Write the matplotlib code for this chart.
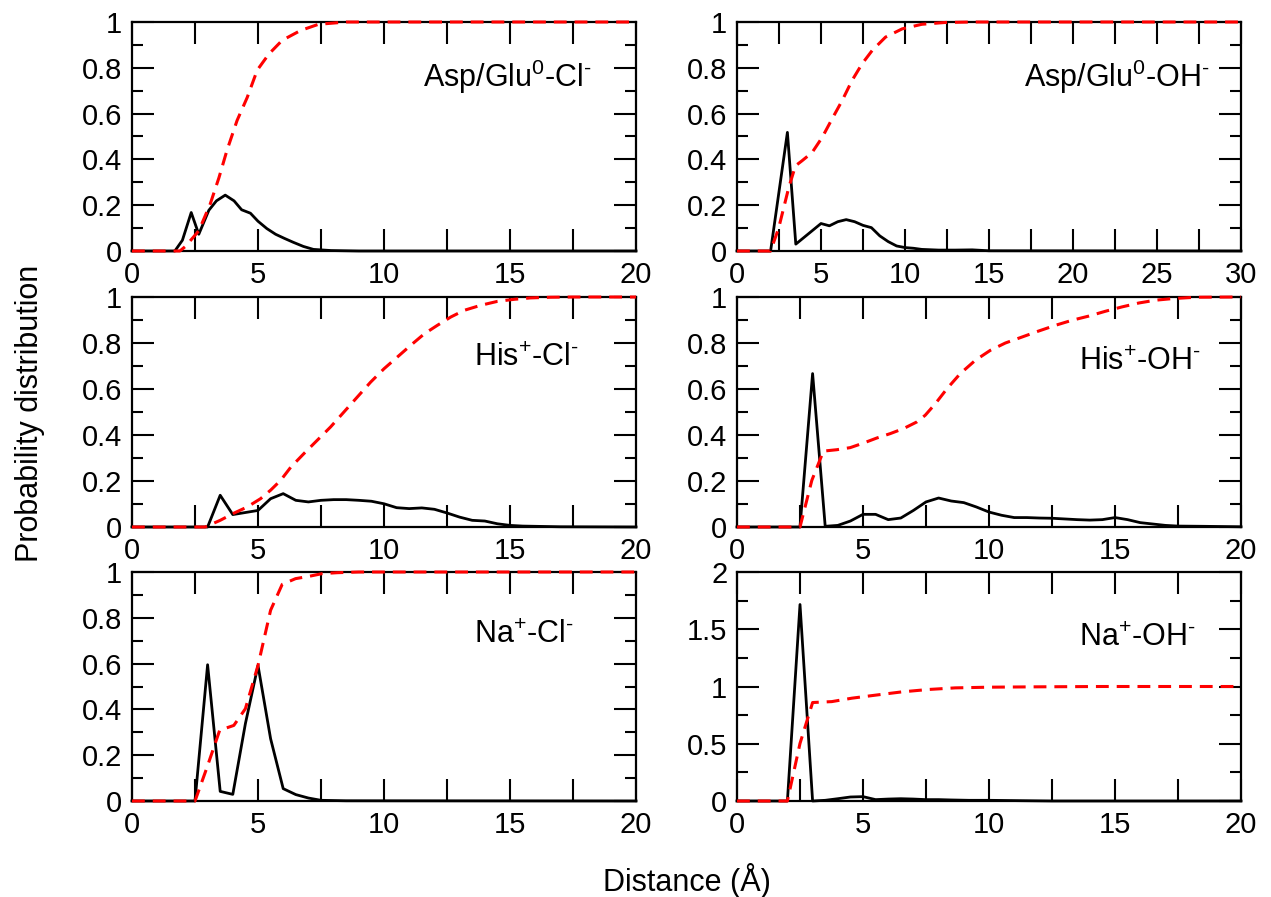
import matplotlib
matplotlib.use("Agg")
import matplotlib.pyplot as plt
from matplotlib.ticker import MultipleLocator, FuncFormatter

plt.rcParams['font.family'] = ['Liberation Sans', 'DejaVu Sans']
plt.rcParams['mathtext.fontset'] = 'custom'
plt.rcParams['mathtext.rm'] = 'Liberation Sans'
plt.rcParams['mathtext.it'] = 'Liberation Sans:italic'
plt.rcParams['mathtext.bf'] = 'Liberation Sans:bold'

# ---------------- data ----------------
# Panel 1: Asp/Glu0 - Cl-
p1_prob_x = [0, 1.7, 2.0, 2.35, 2.65, 3.05, 3.35, 3.7, 4.05, 4.35, 4.7, 5.0, 5.35, 5.7, 6.05, 6.4, 6.8, 7.2, 7.9, 9, 20]
p1_prob_y = [0, 0, 0.047, 0.168, 0.073, 0.178, 0.219, 0.244, 0.219, 0.18, 0.165, 0.13, 0.098, 0.073, 0.055, 0.038, 0.02, 0.007, 0.002, 0, 0]
p1_cum_x = [0, 1.9, 2.12, 2.65, 3.1, 3.45, 3.77, 4.17, 4.57, 4.97, 5.43, 5.96, 6.69, 7.4, 8.5, 20]
p1_cum_y = [0, 0, 0.02, 0.088, 0.204, 0.32, 0.44, 0.57, 0.67, 0.79, 0.86, 0.92, 0.963, 0.99, 1, 1]

# Panel 2: Asp/Glu0 - OH-
p2_prob_x = [0, 2.0, 3.0, 3.5, 5.0, 5.5, 6.0, 6.5, 7.0, 7.5, 8.0, 8.5, 9.0, 9.5, 10.0, 10.5, 11.0, 12.0, 13.0, 14.0, 15.0, 30]
p2_prob_y = [0, 0, 0.518, 0.03, 0.12, 0.11, 0.128, 0.137, 0.128, 0.112, 0.102, 0.066, 0.041, 0.022, 0.015, 0.012, 0.007, 0.004, 0.004, 0.005, 0.001, 0]
p2_cum_x = [0, 2.0, 2.48, 3.08, 3.48, 3.87, 4.47, 5.07, 5.66, 6.26, 6.85, 7.45, 8.05, 8.84, 9.83, 11.0, 12.4, 14, 30]
p2_cum_y = [0, 0, 0.10, 0.277, 0.372, 0.394, 0.43, 0.496, 0.577, 0.657, 0.745, 0.818, 0.876, 0.934, 0.97, 0.99, 0.998, 1, 1]

# Panel 3: His+ - Cl-
p3_prob_x = [0, 3.0, 3.5, 4.0, 4.5, 5.0, 5.5, 6.0, 6.5, 7.0, 7.5, 8.0, 8.5, 9.0, 9.5, 10.0, 10.5, 11.0, 11.5, 12.0, 12.5, 13.0, 13.5, 14.0, 14.5, 15.0, 15.5, 16.0, 17.0, 20]
p3_prob_y = [0, 0, 0.138, 0.054, 0.063, 0.072, 0.123, 0.145, 0.116, 0.109, 0.116, 0.119, 0.119, 0.116, 0.112, 0.101, 0.084, 0.08, 0.083, 0.077, 0.061, 0.043, 0.029, 0.026, 0.014, 0.007, 0.004, 0.003, 0.001, 0]
p3_cum_x = [0, 2.9, 3.5, 4.04, 4.57, 5.1, 5.5, 5.9, 6.3, 6.82, 7.35, 7.88, 8.41, 8.94, 9.47, 10.0, 10.53, 11.06, 11.6, 12.12, 12.65, 13.18, 13.84, 14.5, 15.17, 15.8, 16.6, 17.5, 20]
p3_cum_y = [0, 0, 0.029, 0.06, 0.087, 0.123, 0.16, 0.203, 0.26, 0.319, 0.377, 0.435, 0.5, 0.565, 0.63, 0.688, 0.739, 0.79, 0.84, 0.877, 0.913, 0.942, 0.964, 0.981, 0.99, 0.996, 0.999, 1, 1]

# Panel 4: His+ - OH-
p4_prob_x = [0, 2.5, 3.0, 3.5, 4.0, 4.5, 5.0, 5.5, 6.0, 6.5, 7.0, 7.5, 8.0, 8.5, 9.0, 9.5, 10.0, 10.5, 11.0, 11.5, 12.0, 12.5, 13.0, 13.5, 14.0, 14.5, 15.0, 15.5, 16.0, 16.5, 17.0, 17.5, 18.5, 20]
p4_prob_y = [0, 0, 0.667, 0.003, 0.007, 0.026, 0.055, 0.055, 0.032, 0.039, 0.072, 0.109, 0.126, 0.113, 0.106, 0.087, 0.065, 0.051, 0.041, 0.041, 0.039, 0.038, 0.035, 0.032, 0.03, 0.032, 0.041, 0.032, 0.019, 0.013, 0.007, 0.004, 0.003, 0.001]
p4_cum_x = [0, 2.5, 2.97, 3.43, 3.96, 4.49, 5.02, 5.55, 6.08, 6.61, 7.14, 7.47, 7.87, 8.33, 8.86, 9.46, 10.05, 10.65, 11.31, 11.97, 12.64, 13.3, 13.96, 14.62, 15.28, 15.95, 16.6, 17.28, 18.2, 20]
p4_cum_y = [0, 0, 0.203, 0.33, 0.336, 0.345, 0.365, 0.387, 0.406, 0.428, 0.457, 0.486, 0.536, 0.601, 0.667, 0.725, 0.768, 0.8, 0.826, 0.852, 0.877, 0.899, 0.917, 0.938, 0.957, 0.974, 0.986, 0.993, 0.999, 1]

# Panel 5: Na+ - Cl-
p5_prob_x = [0, 2.5, 3.0, 3.5, 4.0, 4.5, 5.0, 5.5, 6.0, 6.5, 7.0, 7.5, 8.5, 20]
p5_prob_y = [0, 0, 0.595, 0.042, 0.029, 0.338, 0.592, 0.272, 0.054, 0.028, 0.013, 0.003, 0.001, 0]
p5_cum_x = [0, 2.5, 2.98, 3.48, 4.04, 4.5, 5.0, 5.5, 5.96, 6.49, 7.02, 7.55, 8.15, 9, 20]
p5_cum_y = [0, 0, 0.148, 0.309, 0.33, 0.403, 0.592, 0.833, 0.946, 0.971, 0.981, 0.993, 0.997, 1, 1]

# Panel 6: Na+ - OH-
p6_prob_x = [0, 2.0, 2.5, 3.0, 3.5, 4.0, 4.5, 5.0, 5.5, 6.0, 6.5, 7.0, 7.5, 8.0, 8.5, 9.2, 10, 11.2, 12.5, 20]
p6_prob_y = [0, 0, 1.716, 0, 0.006, 0.02, 0.035, 0.038, 0.012, 0.017, 0.02, 0.017, 0.012, 0.012, 0.009, 0.006, 0.006, 0.003, 0, 0]
p6_cum_x = [0, 2.0, 2.5, 3.0, 3.76, 4.56, 5.48, 6.54, 7.6, 8.66, 10, 11.8, 14.5, 20]
p6_cum_y = [0, 0, 0.503, 0.86, 0.868, 0.898, 0.924, 0.953, 0.974, 0.988, 0.994, 0.997, 1.0, 1.0]

labels = [r'Asp/Glu$^{0}$-Cl$^{\text{-}}$', r'Asp/Glu$^{0}$-OH$^{\text{-}}$',
          r'His$^{+}$-Cl$^{\text{-}}$', r'His$^{+}$-OH$^{\text{-}}$',
          r'Na$^{+}$-Cl$^{\text{-}}$', r'Na$^{+}$-OH$^{\text{-}}$']
xmaxes = [20, 30, 20, 20, 20, 20]
ymaxes = [1, 1, 1, 1, 1, 2]

panels = [(p1_prob_x, p1_prob_y, p1_cum_x, p1_cum_y),
          (p2_prob_x, p2_prob_y, p2_cum_x, p2_cum_y),
          (p3_prob_x, p3_prob_y, p3_cum_x, p3_cum_y),
          (p4_prob_x, p4_prob_y, p4_cum_x, p4_cum_y),
          (p5_prob_x, p5_prob_y, p5_cum_x, p5_cum_y),
          (p6_prob_x, p6_prob_y, p6_cum_x, p6_cum_y)]

# ---------------- layout ----------------
W, H = 1271, 897
fig = plt.figure(figsize=(W / 100, H / 100), dpi=100)

col_left = [132, 737]
col_w = 504
row_tb = [(22, 251), (297, 527), (572, 801)]
label_pos = [(0.913, 0.76), (0.939, 0.76), (0.887, 0.735), (0.921, 0.717), (0.877, 0.725), (0.911, 0.712)]


def fmt(v, pos):
    return '%g' % v


for i, (px, py, cx, cy) in enumerate(panels):
    r, c = divmod(i, 2)
    top, bot = row_tb[r]
    ax = fig.add_axes([col_left[c] / W, (H - bot) / H, col_w / W, (bot - top) / H])
    ax.plot(px, py, color='black', lw=2.0, clip_on=False, zorder=3)
    ax.plot(cx, cy, color='#ff0000', lw=2.2, dashes=(4.2, 2.6), clip_on=False, zorder=4)
    ax.set_xlim(0, xmaxes[i])
    ax.set_ylim(0, ymaxes[i])
    ax.xaxis.set_major_locator(MultipleLocator(5))
    ax.xaxis.set_minor_locator(MultipleLocator(2.5))
    if ymaxes[i] == 2:
        ax.yaxis.set_major_locator(MultipleLocator(0.5))
        ax.yaxis.set_minor_locator(MultipleLocator(0.25))
    else:
        ax.yaxis.set_major_locator(MultipleLocator(0.2))
        ax.yaxis.set_minor_locator(MultipleLocator(0.1))
    ax.xaxis.set_major_formatter(FuncFormatter(fmt))
    ax.yaxis.set_major_formatter(FuncFormatter(fmt))
    ax.tick_params(which='both', direction='in', top=True, right=True, width=1.5, labelsize=21, pad=7)
    ax.tick_params(which='major', length=15.5)
    ax.tick_params(axis='x', which='minor', length=15.5)
    ax.tick_params(axis='y', which='minor', length=8)
    for s in ax.spines.values():
        s.set_linewidth(1.6)
    ax.text(label_pos[i][0], label_pos[i][1], labels[i], transform=ax.transAxes,
            ha='right', va='center', fontsize=22)

fig.text(30 / W, 1 - 413 / H, 'Probability distribution', rotation=90,
         ha='center', va='center', fontsize=22)
fig.text(687 / W, 1 - 880 / H, 'Distance (Å)', ha='center', va='center', fontsize=22)

fig.savefig('out.png', dpi=100)
